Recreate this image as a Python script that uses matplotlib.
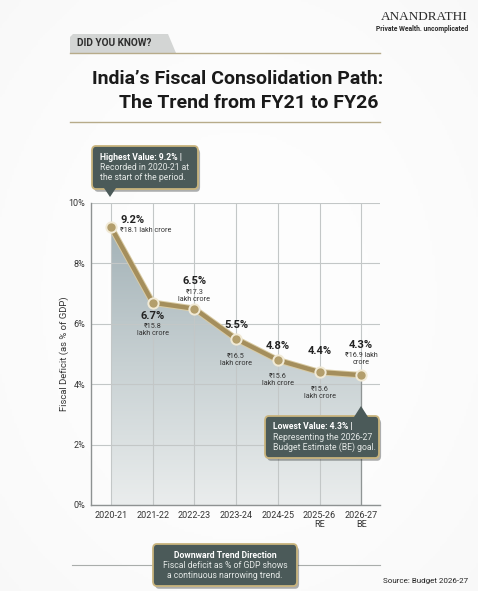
import numpy as np
import matplotlib
matplotlib.use('Agg')
import matplotlib.pyplot as plt
from matplotlib.patches import FancyBboxPatch, Polygon
from matplotlib.colors import LinearSegmentedColormap
import matplotlib.patheffects as pe

plt.rcParams['font.family'] = ['Roboto', 'DejaVu Sans']

# Data
years = ["2020-21", "2021-22", "2022-23", "2023-24", "2024-25", "2025-26\nRE", "2026-27\nBE"]
deficit = [9.2, 6.7, 6.5, 5.5, 4.8, 4.4, 4.3]
amounts = ["₹18.1 lakh crore", "₹15.8\nlakh crore", "₹17.3\nlakh crore", "₹16.5\nlakh crore",
           "₹15.6\nlakh crore", "₹15.6\nlakh crore", "₹16.9 lakh\ncrore"]
yticks = [0, 2, 4, 6, 8, 10]

W, H = 478, 591
fig = plt.figure(figsize=(W / 100, H / 100), dpi=100)
fig.patch.set_facecolor('#eef0ef')


def fx(x):
    return x / W


def fy(y):
    return 1 - y / H


# background vignette
bg = fig.add_axes([0, 0, 1, 1], zorder=-10)
gx, gy = np.meshgrid(np.linspace(-1, 1, 200), np.linspace(-1, 1, 250))
vign = 1 - 0.25 * (gx ** 2 + gy ** 2) / 2
bg.imshow(vign, cmap='Greys_r', vmin=-5, vmax=1.08, aspect='auto', extent=[0, 1, 0, 1])
bg.axis('off')

# Chart axes
ax = fig.add_axes([fx(91), fy(505), fx(380) - fx(91), fy(203) - fy(505)])
ax.set_facecolor('none')
x = np.arange(len(years))
ax.set_xlim(-0.48, 6.45)
ax.set_ylim(0, 10)

# gradient fill under the line
grad = np.linspace(0, 1, 256).reshape(-1, 1)
cm = LinearSegmentedColormap.from_list('f', ['#eaeded', '#c8d1d3', '#a3b2b7'])
img = ax.imshow(grad, cmap=cm, aspect='auto', extent=[x[0], x[-1], 0, max(deficit)],
                origin='lower', zorder=1)
verts = [(x[0], 0)] + list(zip(x, deficit)) + [(x[-1], 0)]
poly = Polygon(verts, closed=True, transform=ax.transData, facecolor='none', edgecolor='none')
ax.add_patch(poly)
img.set_clip_path(poly)

ax.set_yticks(yticks)
ax.set_yticklabels([f"{t}%" for t in yticks], fontsize=6.5, color='#333333')
ax.set_xticks(x)
ax.set_xticklabels(years, fontsize=6.5, color='#333333', linespacing=1.0)
ax.tick_params(length=0, pad=4)
ax.grid(True, color='#c3c7c7', lw=0.8, zorder=0)
for s in ['top', 'right']:
    ax.spines[s].set_visible(False)
for s in ['left', 'bottom']:
    ax.spines[s].set_color('#8e9292')
    ax.spines[s].set_linewidth(1.0)
ax.set_ylabel("Fiscal Deficit (as % of GDP)", fontsize=6.8, color='#333333', labelpad=0)

ax.plot(x, deficit, color='#a48e5c', lw=3.2, zorder=3, solid_capstyle='round',
        path_effects=[pe.Stroke(linewidth=4.6, foreground='#d9cba4'), pe.Normal()])
ax.scatter(x, deficit, s=55, color='#b39e6c', edgecolor='#f1ead6', linewidth=1.4, zorder=4)

# value labels: (dx, dy) offsets in pixels for percent and amount
pct_off = [(9, 7), (0, -13), (0, 28), (0, 14), (0, 14), (0, 21), (0, 30)]
amt_off = [(9, -3), (0, -27), (0, 13), (0, -21), (0, -20), (0, -21), (0, 16)]
for i in range(len(x)):
    ha = 'left' if i == 0 else 'center'
    ax.annotate(f"{deficit[i]}%", (x[i], deficit[i]), xytext=pct_off[i], textcoords='offset pixels',
                ha=ha, va='center', fontsize=8, fontweight='bold', color='#222222', zorder=5)
    ax.annotate(amounts[i], (x[i], deficit[i]), xytext=amt_off[i], textcoords='offset pixels',
                ha=ha, va='center', fontsize=5.2, color='#333333', linespacing=0.95, zorder=5)

# drop line from last point
ax.plot([x[-1], x[-1]], [0.0, deficit[-1]], color='#8f9494', lw=0.9, zorder=2)


def callout(x0, y0, x1, y1, tip):
    box = FancyBboxPatch((fx(x0), fy(y1)), fx(x1) - fx(x0), fy(y0) - fy(y1),
                         boxstyle="round,pad=0,rounding_size=0.008",
                         transform=fig.transFigure, facecolor='#4b5a59', edgecolor='#c9b47d',
                         lw=1.3, zorder=20,
                         path_effects=[pe.SimplePatchShadow(offset=(1.5, -2), alpha=0.35), pe.Normal()])
    fig.add_artist(box)
    if tip is not None:
        tri = Polygon([(fx(p[0]), fy(p[1])) for p in tip], closed=True, transform=fig.transFigure,
                      facecolor='#4b5a59', edgecolor='none', zorder=21)
        fig.add_artist(tri)


def box_text(xp, yp, lines, ha='left'):
    for j, (t, bold) in enumerate(lines):
        fig.text(fx(xp), fy(yp + j * 10.3), t, fontsize=6.2, color='#ffffff' if bold else '#e4e8e6',
                 fontweight='bold' if bold else 'normal', ha=ha, va='center', zorder=25)


# Highest value callout
callout(92, 146, 198, 189, [(104, 188), (116, 188), (110, 197)])
box_text(100, 157, [("Highest Value: 9.2% |", True), ("Recorded in 2020-21 at", False),
                    ("the start of the period.", False)])

# Lowest value callout
callout(265, 416, 379, 458, [(354, 417), (368, 417), (361, 406)])
box_text(273, 427, [("Lowest Value: 4.3% |", True), ("Representing the 2026-27", False),
                    ("Budget Estimate (BE) goal.", False)])

# Downward trend callout
fig.add_artist(plt.Line2D([fx(72), fx(380)], [fy(565), fy(565)], color='#a9adab', lw=0.8, zorder=15))
callout(153, 544, 297, 586, None)
box_text(225, 555, [("Downward Trend Direction", True), ("Fiscal deficit as % of GDP shows", False),
                    ("a continuous narrowing trend.", False)], ha='center')

# Header tab
tab = Polygon([(fx(70), fy(53)), (fx(70), fy(37)), (fx(73), fy(34)), (fx(168), fy(34)),
               (fx(176), fy(53))], closed=True, transform=fig.transFigure,
              facecolor='#d3d5d4', edgecolor='none', zorder=5)
fig.add_artist(tab)
fig.text(fx(77), fy(43.5), "DID YOU KNOW?", fontsize=7.2, fontweight='bold', color='#2e2e2e',
         va='center', ha='left', zorder=6)
for yl in (53, 122):
    fig.add_artist(plt.Line2D([fx(70), fx(380)], [fy(yl), fy(yl)], color='#b7ab8a', lw=1.0, zorder=6))

fig.text(fx(238), fy(79), "India’s Fiscal Consolidation Path:", fontsize=14, fontweight='bold',
         color='#1a1a1a', ha='center', va='center')
fig.text(fx(249), fy(103), "The Trend from FY21 to FY26", fontsize=14, fontweight='bold',
         color='#1a1a1a', ha='center', va='center')

# Logo
fig.text(fx(468), fy(17), "ANANDRATHI", fontsize=9.5, family='Liberation Serif', color='#2a2a2a',
         ha='right', va='center')
fig.text(fx(468), fy(29), "Private Wealth. uncomplicated", fontsize=4.9, fontweight='bold',
         color='#2a2a2a', ha='right', va='center')

fig.text(fx(468), fy(581), "Source: Budget 2026-27", fontsize=5.8, color='#222222',
         ha='right', va='center')

fig.savefig('out.png', dpi=100, facecolor=fig.get_facecolor())
